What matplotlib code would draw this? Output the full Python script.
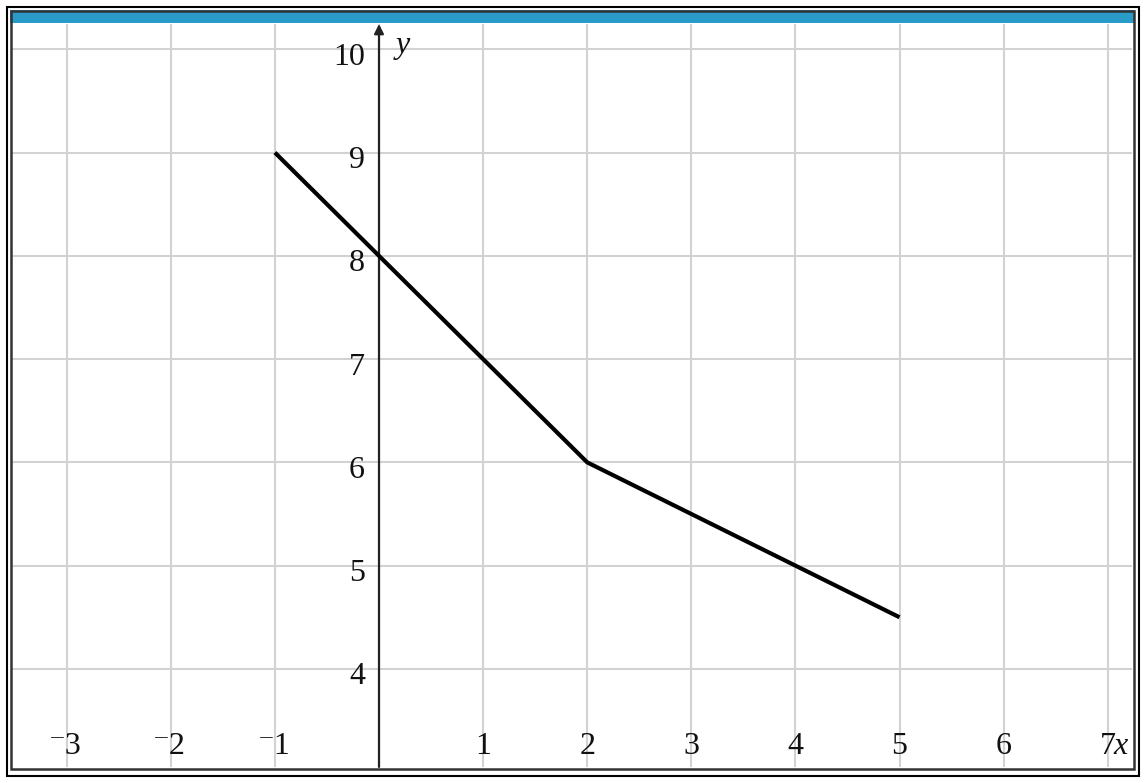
import matplotlib.pyplot as plt
from matplotlib.patches import Rectangle
import matplotlib.transforms as mtransforms

# piecewise linear graph
x_vals = [-1, 0, 1, 2, 3, 4, 5]
y_vals = [9, 8, 7, 6, 5.5, 5, 4.5]

x_ticks = [-3, -2, -1, 1, 2, 3, 4, 5, 6, 7]
y_ticks = [4, 5, 6, 7, 8, 9, 10]

W, H = 1148, 783
fig = plt.figure(figsize=(W / 100, H / 100), dpi=100)
fam = ['Liberation Serif', 'DejaVu Serif']
fs = 23

# plot area in pixels: x 11..1132, y 24..767
left, right, top, bottom = 11, 1132, 24, 767
ax = fig.add_axes([left / W, (H - bottom) / H, (right - left) / W, (bottom - top) / H])
ax.set_xlim(-3.535, 7.233)
ax.set_ylim(3.05, 10.245)
for s in ax.spines.values():
    s.set_visible(False)
ax.set_xticks([])
ax.set_yticks([])

# grid
for gx in range(-3, 8):
    ax.axvline(gx, color='#d2d2d2', lw=1.5, zorder=0)
for gy in range(4, 11):
    ax.axhline(gy, color='#d2d2d2', lw=1.5, zorder=0)

# y axis with arrow
ax.annotate('', xy=(0, 1.0), xytext=(0, 0), xycoords=('data', 'axes fraction'),
            textcoords=('data', 'axes fraction'),
            arrowprops=dict(arrowstyle='-|>', color='#222222', lw=1.6,
                            mutation_scale=14, shrinkA=0, shrinkB=0), zorder=2)

# the graph
ax.plot(x_vals, y_vals, color='black', lw=3, solid_capstyle='butt', zorder=3)

# tick labels
btrans = mtransforms.blended_transform_factory(ax.transData, ax.transAxes)
for t in x_ticks:
    lab = str(t) if t > 0 else '\u207b' + str(-t)
    dx = 0 if t > 0 else -1
    ax.annotate(lab, xy=(t, 0.027), xycoords=btrans, xytext=(dx, 0),
                textcoords='offset pixels', ha='center', va='center',
                fontsize=fs, family=fam, color='#111111')
ax.annotate('x', xy=(7, 0.027), xycoords=btrans, xytext=(6, 0),
            textcoords='offset pixels', ha='left', va='center',
            fontsize=fs, family=fam, style='italic', color='#111111')
for t in y_ticks:
    ax.annotate(str(t), xy=(0, t), xytext=(-14, -8), textcoords='offset pixels',
                ha='right', va='center', fontsize=fs, family=fam, color='#111111')
ax.annotate('y', xy=(0, 10.245), xytext=(24, -21), textcoords='offset pixels',
            ha='center', va='center', fontsize=fs, family=fam, style='italic',
            color='#111111')

# blue title bar and double frame
fig.patches.append(Rectangle((10 / W, (H - 23) / H), (1135 - 10) / W, 13 / H,
                             transform=fig.transFigure, facecolor='#2a9ac8',
                             edgecolor='none', zorder=5))
fig.patches.append(Rectangle((6.5 / W, (H - 775.5) / H), (1139 - 6.5) / W, (775.5 - 6.5) / H,
                             transform=fig.transFigure, facecolor='none',
                             edgecolor='black', lw=1.5, zorder=6))
fig.patches.append(Rectangle((10.5 / W, (H - 768.5) / H), (1133.5 - 10.5) / W, (768.5 - 10.5) / H,
                             transform=fig.transFigure, facecolor='none',
                             edgecolor='#333333', lw=1.8, zorder=6))

fig.savefig('out.png', dpi=100)
